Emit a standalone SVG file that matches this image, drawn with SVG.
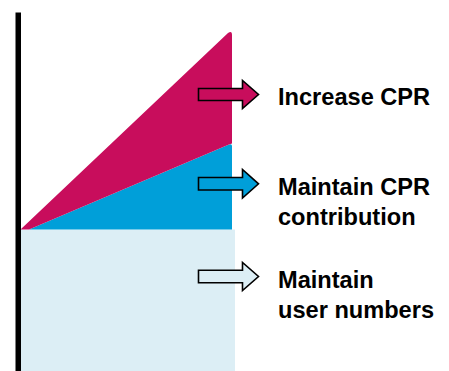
<svg xmlns="http://www.w3.org/2000/svg" width="449" height="371" viewBox="0 0 449 371">
<style>
.lbl{font-family:"Liberation Sans",Arial,sans-serif;font-weight:bold;font-size:23.6px;fill:#000}
.arr{stroke:#000;stroke-width:1.6;stroke-linejoin:miter}
</style>
<rect width="449" height="371" fill="#fff"/>
<g id="base">
<rect x="20.5" y="229.5" width="214.5" height="141.5" fill="#DCEEF5"/>
</g>
<g id="cpr-contribution">
<path d="M29 229.5 L229 144.5 Q232 143.5 232 146 L232 229.5 Z" fill="#009FD9"/>
</g>
<g id="increase-cpr">
<path d="M20.5 229.5 L228 33 Q232 30 232 35 L232 143.5 L229 144.5 L29 229.5 Z" fill="#C80D5C"/>
</g>
<g id="axis">
<rect x="15.5" y="12.5" width="5.5" height="358.5" fill="#000"/>
</g>
<g id="connectors">
<path class="arr" d="M198.5 88.5 H242.5 V80.5 L258.5 94.5 L242.5 108.5 V100.5 H198.5 Z" fill="#C80D5C"/>
<path class="arr" d="M198.5 177.5 H242.5 V169.5 L258.5 183.8 L242.5 198 V190 H198.5 Z" fill="#009FD9"/>
<path class="arr" d="M198.5 270.3 H242.5 V262.5 L258.5 276.5 L242.5 290.5 V282.7 H198.5 Z" fill="#DCEEF5"/>
</g>
<g id="label-increase">
<text class="lbl" x="278" y="105">Increase CPR</text>
</g>
<g id="label-maintain-cpr">
<text class="lbl" x="278" y="195">Maintain CPR</text>
<text class="lbl" x="278" y="225">contribution</text>
</g>
<g id="label-users">
<text class="lbl" x="278" y="288">Maintain</text>
<text class="lbl" x="278" y="318">user numbers</text>
</g>
</svg>
